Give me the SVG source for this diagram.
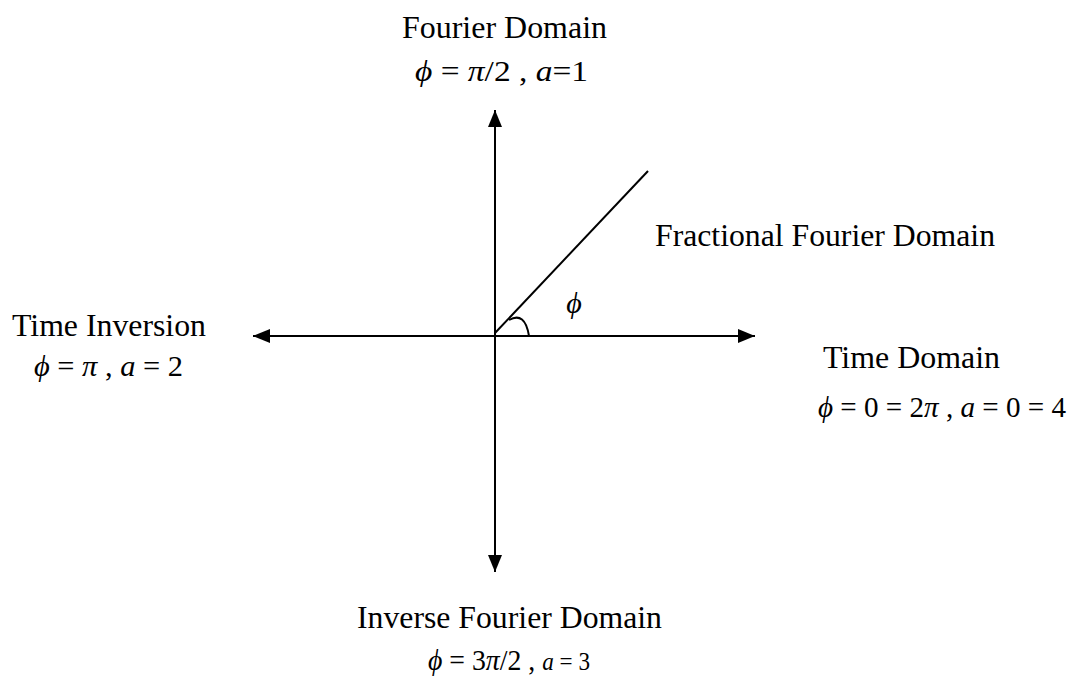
<svg xmlns="http://www.w3.org/2000/svg" width="1073" height="677" viewBox="0 0 1073 677">
<defs>
<style>
.lbl{font-family:"Liberation Serif","Times New Roman",serif;font-size:31px;fill:#000}
.eq{font-family:"Liberation Serif","Times New Roman",serif;font-size:30px;fill:#000}
.it{font-style:italic}
.ln{stroke:#000;stroke-width:2;fill:none}
</style>
<marker id="ah" viewBox="0 0 17 14" refX="17" refY="7" markerWidth="17" markerHeight="14" markerUnits="userSpaceOnUse" orient="auto">
<path d="M0,0 L17,7 L0,14 Z" fill="#000"/>
</marker>
</defs>
<rect width="1073" height="677" fill="#fff"/>
<g id="connectors">
<line class="ln" x1="495" y1="336" x2="495" y2="110" marker-end="url(#ah)"/>
<line class="ln" x1="495" y1="336" x2="495" y2="572" marker-end="url(#ah)"/>
<line class="ln" x1="495" y1="336" x2="253" y2="336" marker-end="url(#ah)"/>
<line class="ln" x1="495" y1="336" x2="755" y2="336" marker-end="url(#ah)"/>
<line class="ln" x1="495" y1="333" x2="648" y2="171"/>
<path class="ln" d="M509,320 Q525,311 529,336"/>
<text class="eq it" x="574" y="313" text-anchor="middle">ϕ</text>
</g>
<g id="fourier">
<text class="lbl" x="402" y="38" textLength="205" lengthAdjust="spacingAndGlyphs">Fourier Domain</text>
<text class="eq" x="415" y="81" textLength="173" lengthAdjust="spacingAndGlyphs"><tspan class="it">ϕ</tspan> = <tspan class="it">π</tspan>/2 ,  <tspan class="it">a</tspan>=1</text>
</g>
<g id="fractional">
<text class="lbl" x="655" y="246" textLength="340" lengthAdjust="spacingAndGlyphs">Fractional Fourier Domain</text>
</g>
<g id="time-inversion">
<text class="lbl" x="12" y="336" textLength="194" lengthAdjust="spacingAndGlyphs">Time Inversion</text>
<text class="eq" x="34" y="376" textLength="149" lengthAdjust="spacingAndGlyphs"><tspan class="it">ϕ</tspan> = <tspan class="it">π</tspan> ,  <tspan class="it">a</tspan> = 2</text>
</g>
<g id="time-domain">
<text class="lbl" x="823" y="368" textLength="177" lengthAdjust="spacingAndGlyphs">Time Domain</text>
<text class="eq" x="818" y="417" textLength="248" lengthAdjust="spacingAndGlyphs"><tspan class="it">ϕ</tspan> = 0 = 2<tspan class="it">π</tspan> ,  <tspan class="it">a</tspan> = 0 = 4</text>
</g>
<g id="inverse-fourier">
<text class="lbl" x="357" y="628" textLength="305" lengthAdjust="spacingAndGlyphs">Inverse Fourier Domain</text>
<text class="eq" x="428" y="670" textLength="162" lengthAdjust="spacingAndGlyphs"><tspan class="it">ϕ</tspan> = 3<tspan class="it">π</tspan>/2 ,  <tspan class="it" font-size="25">a</tspan><tspan font-size="25"> = 3</tspan></text>
</g>
</svg>
